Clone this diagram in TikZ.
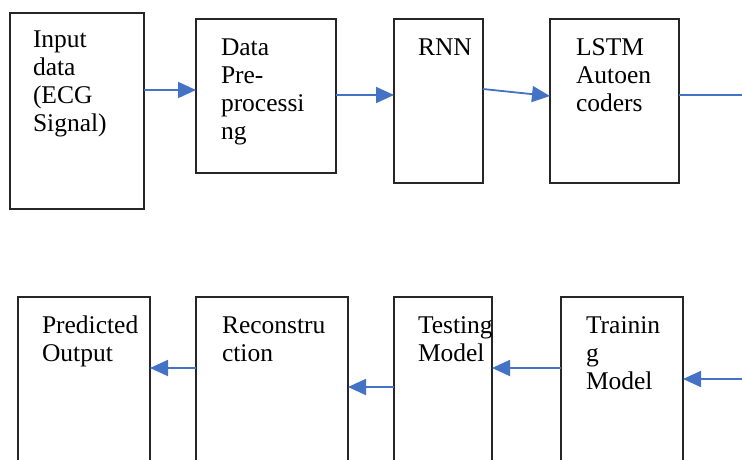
\documentclass[tikz,border=0pt]{standalone}
\usepackage{fontspec}
\setmainfont{Liberation Serif}
\usetikzlibrary{arrows.meta}
\definecolor{arrowblue}{HTML}{4472C4}
\definecolor{boxline}{HTML}{262626}
\tikzset{
  box/.style={draw=boxline, line width=1.6pt, fill=none, inner sep=0pt, outer sep=0pt},
  txt/.style={inner sep=0pt, outer sep=0pt, align=left, anchor=base west,
    font=\fontsize{25.5}{28}\selectfont, text=black},
  flow/.style={draw=arrowblue, line width=1.8pt, -{Triangle[length=18pt,width=16pt]}},
  flowline/.style={draw=arrowblue, line width=1.8pt}
}
\begin{document}
\begin{tikzpicture}[x=1pt,y=-1pt]
\useasboundingbox (0,0) rectangle (742,459);
\clip (0,0) rectangle (742,459);
% top row boxes
\node[box, minimum width=134pt, minimum height=196pt] (in) at (77,111) {};
\node[box, minimum width=140pt, minimum height=154pt] (pre) at (266,96) {};
\node[box, minimum width=89pt, minimum height=164pt] (rnn) at (438.5,101) {};
\node[box, minimum width=129pt, minimum height=164pt] (lstm) at (614.5,101) {};
% bottom row boxes
\node[box, minimum width=132pt, minimum height=190pt] (pred) at (84,392) {};
\node[box, minimum width=152pt, minimum height=190pt] (rec) at (272,392) {};
\node[box, minimum width=98pt, minimum height=190pt] (test) at (443,392) {};
\node[box, minimum width=122pt, minimum height=190pt] (train) at (622,392) {};
% texts (anchor = baseline of the last line)
\node[txt] (inT) at (33,131) {Input\\data\\(ECG\\Signal)};
\node[txt] (preT) at (221,139) {Data\\Pre-\\processi\\ng};
\node[txt] (rnnT) at (418,55) {RNN};
\node[txt] (lstmT) at (576,111) {LSTM\\Autoen\\coders};
\node[txt] (predT) at (42,361) {Predicted\\Output};
\node[txt] (recT) at (222,361) {Reconstru\\ction};
\node[txt] (testT) at (418,361) {Testing\\Model};
\node[txt] (trainT) at (586,389) {Trainin\\g\\Model};
% free ends
\coordinate (outR) at (742,95);
\coordinate (inR) at (742,379);
% connectors
\draw[flow] (in.east |- 0,90) -- (pre.west |- 0,90);
\draw[flow] (pre.east |- 0,95) -- (rnn.west |- 0,95);
\draw[flow] (rnn.east |- 0,89) -- (lstm.west |- 0,96);
\draw[flowline] (lstm.east |- outR) -- (outR);
\draw[flow] (inR) -- (train.east |- inR);
\draw[flow] (train.west |- 0,368) -- (test.east |- 0,368);
\draw[flow] (test.west |- 0,387) -- (rec.east |- 0,387);
\draw[flow] (rec.west |- 0,368) -- (pred.east |- 0,368);
\end{tikzpicture}
\end{document}
